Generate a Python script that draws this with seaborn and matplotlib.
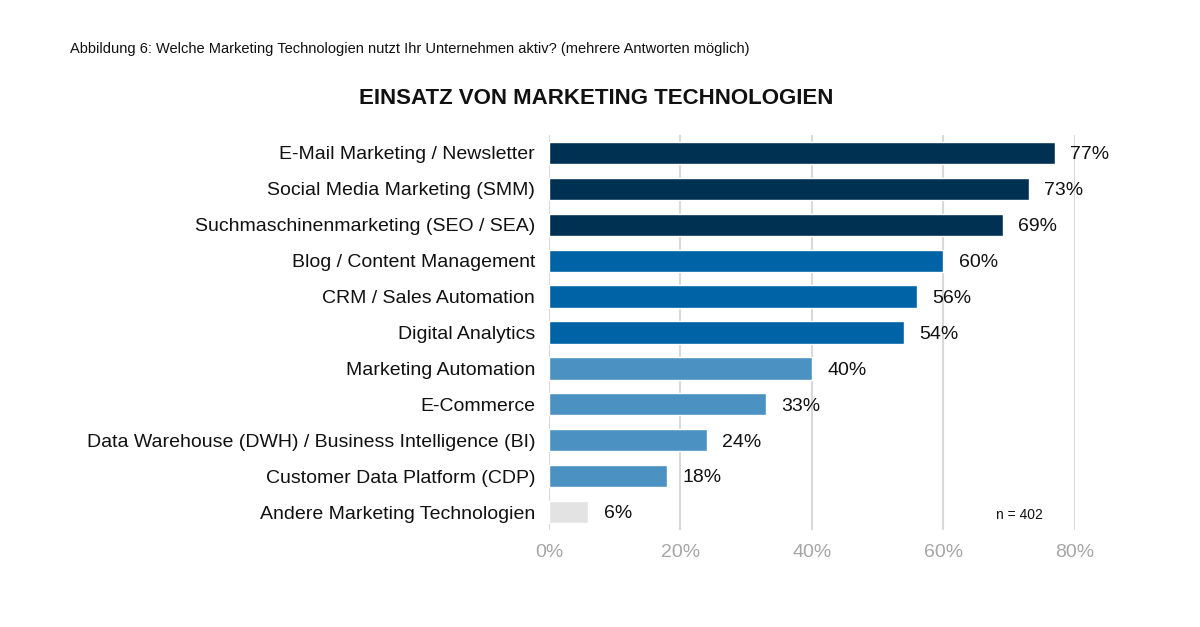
import matplotlib
matplotlib.use('Agg')
import matplotlib.pyplot as plt
import pandas as pd
import seaborn as sns

categories = ['E-Mail Marketing / Newsletter', 'Social Media Marketing (SMM)',
              'Suchmaschinenmarketing (SEO / SEA)', 'Blog / Content Management',
              'CRM / Sales Automation', 'Digital Analytics', 'Marketing Automation',
              'E-Commerce', 'Data Warehouse (DWH) / Business Intelligence (BI)',
              'Customer Data Platform (CDP)', 'Andere Marketing Technologien']
values = [77, 73, 69, 60, 56, 54, 40, 33, 24, 18, 6]
bar_colors = ['#003152', '#003152', '#003152', '#0063A5', '#0063A5', '#0063A5',
              '#4B92C3', '#4B92C3', '#4B92C3', '#4B92C3', '#E3E3E3']
x_ticks = [0, 20, 40, 60, 80]

df = pd.DataFrame({'cat': categories, 'val': values})

sns.set_style('white')
plt.rcParams['font.family'] = ['Liberation Sans', 'DejaVu Sans']

fig = plt.figure(figsize=(12, 6.27), dpi=100)
ax = fig.add_axes([0.4575, 0.1547, 0.8958 - 0.4575, 0.7847 - 0.1547])

sns.barplot(data=df, y='cat', x='val', hue='cat', palette=bar_colors,
            legend=False, width=0.62, saturation=1, ax=ax, zorder=3)

ax.set_xlim(0, 80)
ax.set_ylim(10.5, -0.5)
ax.set_xticks(x_ticks)
ax.set_xticklabels([f'{t}%' for t in x_ticks], color='#A6A6A6', fontsize=14)
ax.tick_params(axis='x', length=0, pad=10)
ax.tick_params(axis='y', length=0, pad=10, labelsize=14, labelcolor='#111111')
ax.xaxis.grid(True, color='#D9D9D9', linewidth=1.5, zorder=0)
ax.set_axisbelow(True)
ax.yaxis.grid(False)
for s in ax.spines.values():
    s.set_visible(False)
ax.set_xlabel('')
ax.set_ylabel('')

for i, v in enumerate(values):
    ax.text(v + 2.3, i + 0.05, f'{v}%', va='center', ha='left', fontsize=14,
            color='#111111', clip_on=False)

ax.text(0.895, 0.02, 'n = 402', transform=ax.transAxes, ha='center', va='bottom',
        fontsize=10, color='#111111')

fig.text(0.497, 0.843, 'EINSATZ VON MARKETING TECHNOLOGIEN', ha='center', va='center',
         fontsize=16, fontweight='bold', color='#111111')
fig.text(0.058, 0.922, 'Abbildung 6: Welche Marketing Technologien nutzt Ihr Unternehmen aktiv? '
         '(mehrere Antworten möglich)', ha='left', va='center', fontsize=10.5, color='#111111')

fig.savefig('out.png', dpi=100)
